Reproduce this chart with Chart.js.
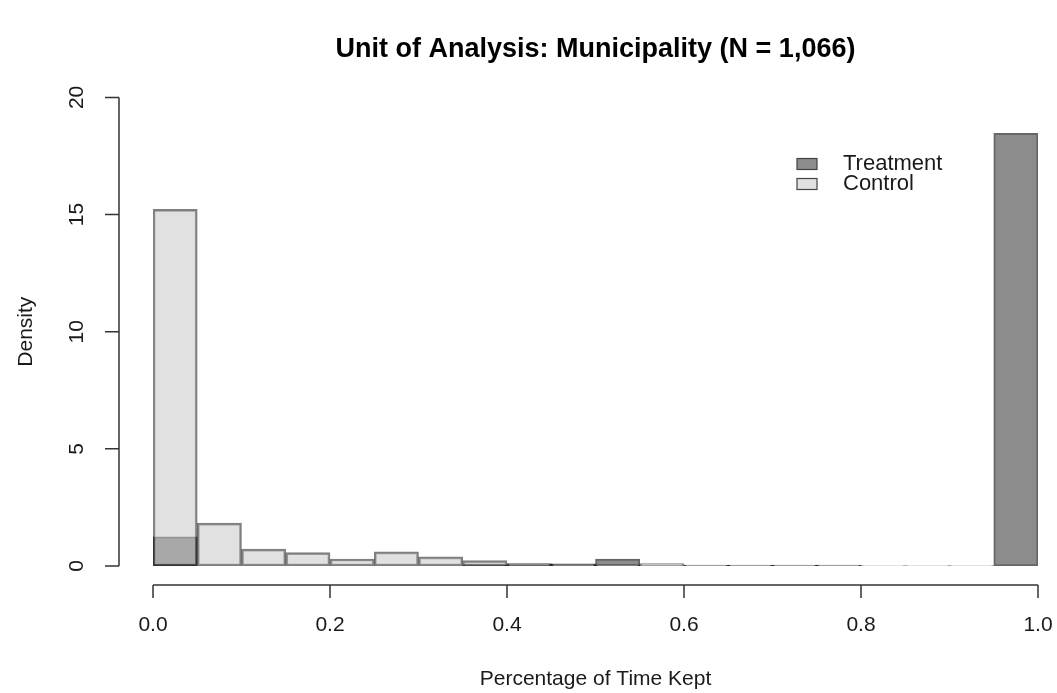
<!DOCTYPE html>
<html>
<head>
<meta charset="utf-8">
<script src="https://cdn.jsdelivr.net/npm/chart.js@4/dist/chart.umd.min.js"></script>
<style>
  body { margin: 0; background: #fff; }
  canvas { display: block; }
</style>
</head>
<body>
<canvas id="histChart" width="1057" height="693"></canvas>
<script>
// bin midpoints (bins of width 0.05 from 0 to 1)
const binMids = [0.025, 0.075, 0.125, 0.175, 0.225, 0.275, 0.325, 0.375, 0.425, 0.475,
                 0.525, 0.575, 0.625, 0.675, 0.725, 0.775, 0.825, 0.875, 0.925, 0.975];
const treatmentDensity = [1.24, 0, 0, 0, 0, 0, 0, 0.05, 0.09, 0.09,
                          0.30, 0, 0.04, 0.04, 0.04, 0.04, 0, 0, 0, 18.47];
const controlDensity = [15.22, 1.83, 0.72, 0.57, 0.30, 0.60, 0.39, 0.23, 0.10, 0.08,
                        0.05, 0.10, 0.03, 0.03, 0.03, 0.03, 0.02, 0.02, 0.02, 0];
const xTicks = [0, 0.2, 0.4, 0.6, 0.8, 1.0];
const yTicks = [0, 5, 10, 15, 20];
const seriesNames = ["Treatment", "Control"];

const FONT = "'Liberation Sans', Arial, Helvetica, sans-serif";
const treatFill = "#8c8c8c";
const ctrlFill = "rgba(195, 195, 195, 0.5)";

const toPoints = (vals) => vals.map((v, i) => ({ x: binMids[i], y: v }));

// R-style detached axes (line + tick marks), positioned from the chart scales
const rAxes = {
    id: "rAxes",
    afterDraw(chart) {
        const { ctx, chartArea, scales } = chart;
        const xs = scales.x, ys = scales.y;
        ctx.save();
        ctx.strokeStyle = "#333";
        ctx.lineWidth = 1.5;

        const ay = chartArea.bottom + 19;
        ctx.beginPath();
        ctx.moveTo(xs.getPixelForValue(xTicks[0]), ay);
        ctx.lineTo(xs.getPixelForValue(xTicks[xTicks.length - 1]), ay);
        xs.ticks.forEach((t) => {
            const px = xs.getPixelForValue(t.value);
            ctx.moveTo(px, ay);
            ctx.lineTo(px, ay + 13);
        });
        ctx.stroke();

        const ax = chartArea.left - 34;
        ctx.beginPath();
        ctx.moveTo(ax, ys.getPixelForValue(yTicks[0]));
        ctx.lineTo(ax, ys.getPixelForValue(yTicks[yTicks.length - 1]));
        ys.ticks.forEach((t) => {
            const py = ys.getPixelForValue(t.value);
            ctx.moveTo(ax, py);
            ctx.lineTo(ax - 14, py);
        });
        ctx.stroke();
        ctx.restore();
    },
};

// legend drawn like R's legend(): small boxes + labels
const rLegend = {
    id: "rLegend",
    afterDraw(chart) {
        const ctx = chart.ctx;
        const fills = [treatFill, "#e0e0e0"];
        ctx.save();
        ctx.font = "22px " + FONT;
        ctx.textBaseline = "middle";
        seriesNames.forEach((name, i) => {
            const cy = 164 + i * 20;
            ctx.fillStyle = fills[i];
            ctx.fillRect(797, cy - 5.5, 20, 11);
            ctx.strokeStyle = "#444";
            ctx.lineWidth = 1.2;
            ctx.strokeRect(797, cy - 5.5, 20, 11);
            ctx.fillStyle = "#1a1a1a";
            ctx.fillText(name, 843, cy);
        });
        ctx.restore();
    },
};

new Chart(document.getElementById("histChart"), {
    type: "bar",
    data: {
        datasets: [
            {
                label: seriesNames[0],
                data: toPoints(treatmentDensity),
                backgroundColor: treatFill,
                borderColor: "rgba(0, 0, 0, 0.6)",
                borderWidth: 2,
                borderSkipped: false,
                order: 1,
            },
            {
                label: seriesNames[1],
                data: toPoints(controlDensity),
                backgroundColor: ctrlFill,
                borderColor: "rgba(0, 0, 0, 0.5)",
                borderWidth: 2,
                borderSkipped: false,
                order: 0,
            },
        ],
    },
    options: {
        responsive: false,
        animation: false,
        devicePixelRatio: 1,
        layout: { padding: { top: 0, right: 19, bottom: 0, left: 0 } },
        datasets: {
            bar: { grouped: false, barPercentage: 1, categoryPercentage: 1 },
        },
        plugins: {
            legend: { display: false },
            tooltip: { enabled: false },
            title: {
                display: true,
                fullSize: false,
                text: "Unit of Analysis: Municipality (N = 1,066)",
                color: "#000",
                font: { family: FONT, size: 27, weight: "bold", lineHeight: 1.2 },
                padding: { top: 33, bottom: 32 },
            },
        },
        scales: {
            x: {
                type: "linear",
                min: 0,
                max: 1,
                offset: false,
                grid: { display: false, drawTicks: false },
                border: { display: false },
                afterBuildTicks: (s) => { s.ticks = xTicks.map((v) => ({ value: v })); },
                ticks: {
                    color: "#1a1a1a",
                    font: { family: FONT, size: 21 },
                    padding: 47,
                    maxRotation: 0,
                    callback: (v) => Number(v).toFixed(1),
                },
                title: {
                    display: true,
                    text: "Percentage of Time Kept",
                    color: "#1a1a1a",
                    font: { family: FONT, size: 21, lineHeight: 1.2 },
                    padding: { top: 0, bottom: 1 },
                },
                afterFit: (s) => {
                    s.height = 127;
                    s.paddingLeft = 0;
                    s.paddingRight = 0;
                },
            },
            y: {
                min: 0,
                max: 20,
                grid: { display: false, drawTicks: false },
                border: { display: false },
                afterBuildTicks: (s) => { s.ticks = yTicks.map((v) => ({ value: v })); },
                ticks: {
                    color: "#1a1a1a",
                    font: { family: FONT, size: 21 },
                    padding: 64,
                    minRotation: 90,
                    maxRotation: 90,
                    crossAlign: "center",
                },
                title: {
                    display: true,
                    text: "Density",
                    color: "#1a1a1a",
                    font: { family: FONT, size: 21, lineHeight: 1.2 },
                    padding: { top: 14, bottom: 0 },
                },
                afterFit: (s) => { s.width = 153; },
            },
        },
    },
    plugins: [rAxes, rLegend],
});
</script>
</body>
</html>
